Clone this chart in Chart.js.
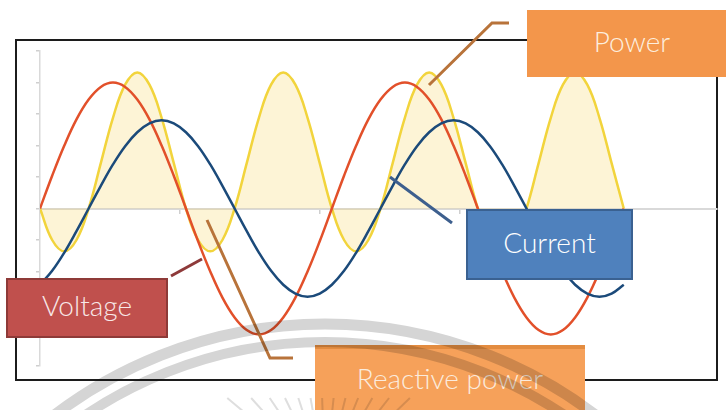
<!DOCTYPE html>
<html>
<head>
<meta charset="utf-8">
<script src="https://cdn.jsdelivr.net/npm/chart.js@4.4.1/dist/chart.umd.min.js"></script>
<style>
  body { margin: 0; background: #fff; }
  #wrap { position: relative; width: 726px; height: 410px; overflow: hidden; font-family: Lato, "Open Sans", sans-serif; font-weight: 300; }
  #frame { position: absolute; left: 15px; top: 39px; width: 703px; height: 342px; border: 2px solid #1c1c1c; box-sizing: border-box; }
  #plot { position: absolute; left: 0; top: 0; }
  .tag { position: absolute; box-sizing: border-box; display: flex; align-items: center; justify-content: center; font-size: 28px; padding-bottom: 6px; }
  #tagPower { left: 527px; top: 10px; width: 210px; height: 67px; background: #f3964b; color: #fdeedf; }
  #tagCurrent { left: 466px; top: 209px; width: 167px; height: 71px; background: #4f81bd; border: 2px solid #3a6191; color: #fff; }
  #tagVoltage { left: 6px; top: 278px; width: 162px; height: 60px; background: #c0504d; border: 2px solid #8e3a38; color: #f8e8e8; }
  #tagReactive { left: 315px; top: 345px; width: 270px; height: 66px; background: #f6a15a; border-top: 4px solid #e38c40; color: #fbebdd; padding-bottom: 4px; }
  #mark { position: absolute; left: 0; top: 0; mix-blend-mode: multiply; pointer-events: none; }
</style>
</head>
<body>
<div id="wrap">
  <div id="frame"></div>
  <canvas id="plot" width="726" height="410"></canvas>
  <div class="tag" id="tagPower">Power</div>
  <div class="tag" id="tagCurrent">Current</div>
  <div class="tag" id="tagVoltage">Voltage</div>
  <div class="tag" id="tagReactive">Reactive power</div>
  <svg id="mark" width="726" height="410"></svg>
</div>
<script>
// phase angle in degrees, two full cycles
const angle = [0, 15, 30, 45, 60, 75, 90, 105, 120, 135, 150, 165, 180, 195, 210, 225, 240, 255, 270, 285, 300, 315, 330, 345,
  360, 375, 390, 405, 420, 435, 450, 465, 480, 495, 510, 525, 540, 555, 570, 585, 600, 615, 630, 645, 660, 675, 690, 705, 720];

const voltage = [0, 1.04, 2.00, 2.83, 3.46, 3.86, 4.00, 3.86, 3.46, 2.83, 2.00, 1.04, 0, -1.04, -2.00, -2.83, -3.46, -3.86, -4.00, -3.86, -3.46, -2.83, -2.00, -1.04,
  0, 1.04, 2.00, 2.83, 3.46, 3.86, 4.00, 3.86, 3.46, 2.83, 2.00, 1.04, 0, -1.04, -2.00, -2.83, -3.46, -3.86, -4.00, -3.86, -3.46, -2.83, -2.00, -1.04, 0];

const current = [-2.42, -1.98, -1.40, -0.72, 0, 0.72, 1.40, 1.98, 2.42, 2.70, 2.80, 2.70, 2.42, 1.98, 1.40, 0.72, 0, -0.72, -1.40, -1.98, -2.42, -2.70, -2.80, -2.70,
  -2.42, -1.98, -1.40, -0.72, 0, 0.72, 1.40, 1.98, 2.42, 2.70, 2.80, 2.70, 2.42, 1.98, 1.40, 0.72, 0, -0.72, -1.40, -1.98, -2.42, -2.70, -2.80, -2.70, -2.42];

const power = [0, -1.00, -1.36, -1.00, 0, 1.44, 2.88, 3.93, 4.32, 3.93, 2.88, 1.44, 0, -1.00, -1.36, -1.00, 0, 1.44, 2.88, 3.93, 4.32, 3.93, 2.88, 1.44,
  0, -1.00, -1.36, -1.00, 0, 1.44, 2.88, 3.93, 4.32, 3.93, 2.88, 1.44, 0, -1.00, -1.36, -1.00, 0, 1.44, 2.88, 3.93, 4.32, 3.93, 2.88, 1.44, 0];

// tick marks only, no labels
const xTicks = [0, 172.5, 345, 517.5, 690];
const yTicks = [-5, -4, -3, -2, -1, 0, 1, 2, 3, 4, 5];

const toPoints = values => values.map((v, i) => ({ x: angle[i], y: v }));

// leader lines from the labels to the curves
const leaders = [
  { color: '#b8733a', pts: [[509, 23], [492, 23], [429, 85]] },
  { color: '#3d5f8e', pts: [[390, 177], [452, 223]] },
  { color: '#8e3a3a', pts: [[171, 276], [202, 259]] },
  { color: '#b8733a', pts: [[207, 220], [270, 358], [293, 358]] }
];

const leaderPlugin = {
  id: 'leaders',
  afterDraw(chart) {
    const ctx = chart.ctx;
    ctx.save();
    ctx.lineWidth = 3;
    leaders.forEach(l => {
      ctx.strokeStyle = l.color;
      ctx.beginPath();
      l.pts.forEach((p, i) => i ? ctx.lineTo(p[0], p[1]) : ctx.moveTo(p[0], p[1]));
      ctx.stroke();
    });
    ctx.restore();
  }
};

new Chart(document.getElementById('plot'), {
  type: 'line',
  data: {
    datasets: [
      { label: 'Current', data: toPoints(current), borderColor: '#1b4a7a', borderWidth: 2.5, pointRadius: 0, tension: 0.4, fill: false },
      { label: 'Voltage', data: toPoints(voltage), borderColor: '#e2502a', borderWidth: 2.5, pointRadius: 0, tension: 0.4, fill: false },
      { label: 'Power', data: toPoints(power), borderColor: '#f2d43c', borderWidth: 2.5, pointRadius: 0, tension: 0.4,
        fill: 'origin', backgroundColor: 'rgba(246,210,90,0.25)' }
    ]
  },
  options: {
    responsive: false,
    animation: false,
    layout: { padding: { left: 36, top: 51, right: 9, bottom: 44 } },
    plugins: {
      legend: { display: false },
      tooltip: { enabled: false },
      filler: { drawTime: 'beforeDatasetsDraw' }
    },
    scales: {
      x: {
        type: 'linear',
        position: { y: 0 },
        min: 0,
        max: 835,
        afterBuildTicks: axis => { axis.ticks = xTicks.map(v => ({ value: v })); },
        ticks: { display: false },
        grid: { drawOnChartArea: false, drawTicks: true, tickLength: 4, color: '#cfcfcf', lineWidth: 1.5 },
        border: { display: true, color: '#d9d9d9', width: 2 }
      },
      y: {
        position: 'left',
        min: -5,
        max: 5,
        afterBuildTicks: axis => { axis.ticks = yTicks.map(v => ({ value: v })); },
        ticks: { display: false },
        grid: { drawOnChartArea: false, drawTicks: true, tickLength: 4, color: '#cfcfcf', lineWidth: 1.5 },
        border: { display: true, color: '#d9d9d9', width: 1.5 }
      }
    }
  },
  plugins: [leaderPlugin]
});

// faint logo arcs and rays across the lower part
const svg = document.getElementById('mark');
const ns = 'http://www.w3.org/2000/svg';
[[447, 11], [429, 10]].forEach(([r, w]) => {
  const c = document.createElementNS(ns, 'circle');
  c.setAttribute('cx', 325); c.setAttribute('cy', 771); c.setAttribute('r', r);
  c.setAttribute('fill', 'none'); c.setAttribute('stroke', '#d5d5d5'); c.setAttribute('stroke-width', w);
  svg.appendChild(c);
});
for (let a = -50; a <= 50; a += 8) {
  const rad = a * Math.PI / 180;
  const r1 = 82 / Math.cos(rad);
  const x1 = 325 + r1 * Math.sin(rad), y1 = 480 - r1 * Math.cos(rad);
  const x2 = 325 + (r1 - 25) * Math.sin(rad), y2 = 480 - (r1 - 25) * Math.cos(rad);
  const l = document.createElementNS(ns, 'line');
  l.setAttribute('x1', x1); l.setAttribute('y1', y1); l.setAttribute('x2', x2); l.setAttribute('y2', y2);
  l.setAttribute('stroke', '#dedede'); l.setAttribute('stroke-width', 2);
  svg.appendChild(l);
}
</script>
</body>
</html>
